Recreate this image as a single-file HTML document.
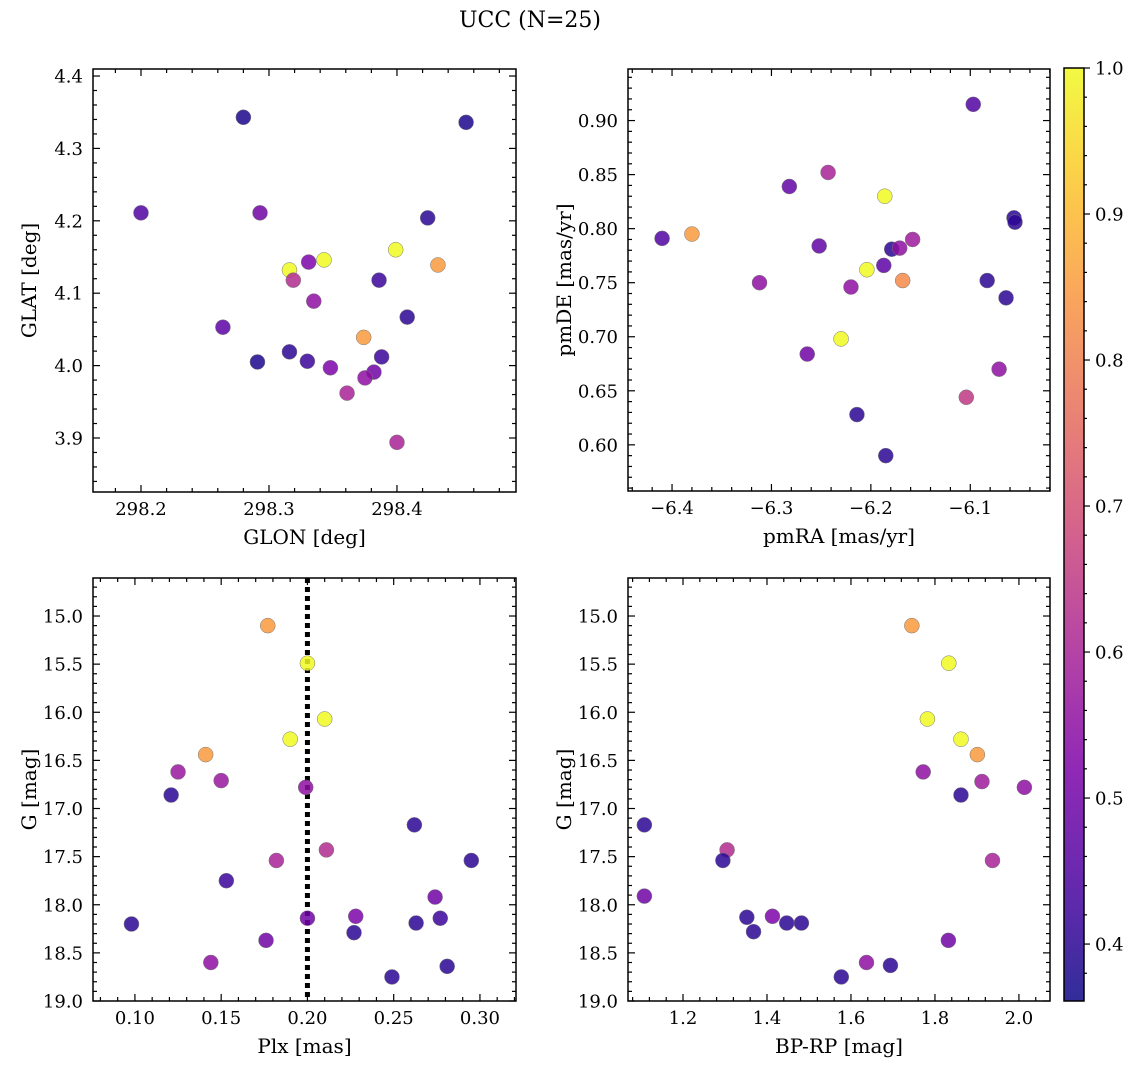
<!DOCTYPE html>
<html><head><meta charset="utf-8"><style>
body{margin:0;background:#fff}
svg{display:block;font-family:"DejaVu Serif","Liberation Serif",serif}
</style></head><body>
<svg id="fig" width="1136" height="1068" viewBox="0 0 1136 1068">
<text x="530" y="27" text-anchor="middle" font-size="22">UCC (N=25)</text>
</svg>
<script>
// Panel 1: GLON vs GLAT
const p1Glon=[298.200,298.280,298.454,298.293,298.424,298.316,298.343,298.399,298.331,298.432,298.319,298.335,298.264,298.386,298.408,298.291,298.316,298.330,298.374,298.388,298.348,298.382,298.375,298.361,298.400];
const p1Glat=[4.211,4.343,4.336,4.211,4.204,4.132,4.146,4.160,4.143,4.139,4.118,4.089,4.053,4.118,4.067,4.005,4.019,4.006,4.039,4.012,3.997,3.991,3.983,3.962,3.894];
const p1Prob=[0.45,0.38,0.38,0.5,0.4,1.0,1.0,1.0,0.52,0.85,0.62,0.55,0.47,0.42,0.4,0.38,0.4,0.42,0.85,0.42,0.52,0.5,0.55,0.6,0.6];
// Panel 2: pmRA vs pmDE
const p2PmRA=[-6.410,-6.380,-6.312,-6.282,-6.243,-6.252,-6.220,-6.186,-6.204,-6.230,-6.179,-6.171,-6.158,-6.187,-6.168,-6.097,-6.056,-6.055,-6.083,-6.064,-6.071,-6.104,-6.264,-6.214,-6.185];
const p2PmDE=[0.791,0.795,0.750,0.839,0.852,0.784,0.746,0.830,0.762,0.698,0.781,0.782,0.790,0.766,0.752,0.915,0.810,0.806,0.752,0.736,0.670,0.644,0.684,0.628,0.590];
const p2Prob=[0.45,0.85,0.55,0.48,0.6,0.48,0.55,1.0,1.0,1.0,0.4,0.55,0.58,0.47,0.82,0.45,0.4,0.4,0.4,0.4,0.55,0.65,0.5,0.4,0.4];
// Panel 3: Plx vs G
const p3Plx=[0.177,0.200,0.210,0.190,0.141,0.125,0.150,0.199,0.121,0.262,0.211,0.182,0.295,0.153,0.274,0.098,0.228,0.200,0.277,0.227,0.176,0.144,0.249,0.281,0.263];
const p3G=[15.10,15.49,16.07,16.28,16.44,16.62,16.71,16.78,16.86,17.17,17.43,17.54,17.54,17.75,17.92,18.20,18.12,18.14,18.14,18.29,18.37,18.60,18.75,18.64,18.19];
const p3Prob=[0.85,1.0,1.0,1.0,0.85,0.57,0.57,0.55,0.4,0.4,0.62,0.6,0.4,0.42,0.5,0.4,0.52,0.5,0.42,0.4,0.5,0.55,0.4,0.4,0.4];
// Panel 4: BP-RP vs G
const p4BpRp=[1.745,1.833,1.782,1.862,1.901,1.772,1.912,2.013,1.862,1.108,1.305,1.937,1.295,1.108,1.352,1.368,1.413,1.447,1.482,1.577,1.637,1.694,1.832];
const p4G=[15.10,15.49,16.07,16.28,16.44,16.62,16.72,16.78,16.86,17.17,17.43,17.54,17.54,17.91,18.13,18.28,18.12,18.19,18.19,18.75,18.60,18.63,18.37];
const p4Prob=[0.85,1.0,1.0,1.0,0.85,0.55,0.58,0.55,0.4,0.4,0.62,0.6,0.4,0.5,0.4,0.4,0.52,0.4,0.4,0.4,0.55,0.4,0.5];
const cbTicks=[0.4,0.5,0.6,0.7,0.8,0.9,1.0];
const gTicks=[15.0,15.5,16.0,16.5,17.0,17.5,18.0,18.5,19.0];
const plxLine=0.20;
const VMIN=0.361, VMAX=1.0;

const NS="http://www.w3.org/2000/svg";
const svg=document.getElementById('fig');
const FT=18, FL=20;
function mk(tag,attrs,parent){const e=document.createElementNS(NS,tag);for(const k in attrs)e.setAttribute(k,attrs[k]);(parent||svg).appendChild(e);return e;}
const plasma=[[13,8,135],[75,3,161],[125,3,168],[168,34,150],[203,70,121],[229,107,93],[248,148,65],[253,195,40],[240,249,33]];
function cmap(v){let t=(v-VMIN)/(VMAX-VMIN);t=Math.max(0,Math.min(1,t));const s=t*(plasma.length-1);const i=Math.min(plasma.length-2,Math.floor(s));const f=s-i;const a=plasma[i],b=plasma[i+1];return 'rgb('+[0,1,2].map(k=>Math.round(a[k]+(b[k]-a[k])*f)).join(',')+')';}
function fmt(v,d){let s=Math.abs(v).toFixed(d);if(v<0)s='\u2212'+s;return s;}

function panel(name,box,xd,yd,xt,yt,xminor,yminor,xdec,ydec,xlabel,ylabel,xs,ys,ps,invert,vline){
  const [L,T,R,B]=box;
  const sx=v=>L+(v-xd[0])/(xd[1]-xd[0])*(R-L);
  const sy=invert? (v=>T+(v-yd[0])/(yd[1]-yd[0])*(B-T)) : (v=>B-(v-yd[0])/(yd[1]-yd[0])*(B-T));
  const g=mk('g',{});
  
  
  const tk=mk('g',{stroke:'#000','stroke-width':1.2},g);
  
  
  const eps=1e-9;
  for(let v=Math.ceil(xd[0]/xminor-eps)*xminor;v<=xd[1]+eps;v+=xminor){const x=sx(v);const maj=xt.some(t=>Math.abs(t-v)<xminor/3);const l=maj?7:4;mk('line',{x1:x,y1:B,x2:x,y2:B-l},tk);mk('line',{x1:x,y1:T,x2:x,y2:T+l},tk);}
  for(let v=Math.ceil(yd[0]/yminor-eps)*yminor;v<=yd[1]+eps;v+=yminor){const y=sy(v);const maj=yt.some(t=>Math.abs(t-v)<yminor/3);const l=maj?7:4;mk('line',{x1:L,y1:y,x2:L+l,y2:y},tk);mk('line',{x1:R,y1:y,x2:R-l,y2:y},tk);}
  xt.forEach(v=>{const t=mk('text',{x:sx(v),y:B+23,'text-anchor':'middle','font-size':FT},g);t.textContent=fmt(v,xdec);});
  yt.forEach(v=>{const t=mk('text',{x:L-10,y:sy(v)+6.5,'text-anchor':'end','font-size':FT},g);t.textContent=fmt(v,ydec);});
  const xl=mk('text',{x:(L+R)/2,y:B+52,'text-anchor':'middle','font-size':FL},g);xl.textContent=xlabel;
  
  const yl=mk('text',{x:0,y:0,'text-anchor':'middle','font-size':FL,transform:'translate('+(L-57)+','+((T+B)/2)+') rotate(-90)'},g);yl.textContent=ylabel;
  
  if(vline!==undefined){const ln=mk('line',{x1:sx(vline),y1:T,x2:sx(vline),y2:B,stroke:'#000','stroke-width':5,'stroke-dasharray':'5,4'},g);}
  xs.forEach((v,i)=>{const c=mk('circle',{cx:sx(v),cy:sy(ys[i]),r:7.5,fill:cmap(ps[i]),'fill-opacity':0.85,stroke:'#777','stroke-width':0.5},g);
    
    });
  const fr=mk('rect',{x:L,y:T,width:R-L,height:B-T,fill:'none',stroke:'#000','stroke-width':1.5},g);
  
}
panel('panel-glon-glat',[93,69,516,492],[298.1625,298.493],[3.8254,4.4097],[298.2,298.3,298.4],[3.9,4.0,4.1,4.2,4.3,4.4],0.02,0.02,1,1,'GLON [deg]','GLAT [deg]',p1Glon,p1Glat,p1Prob,false);
panel('panel-pm',[628,69,1050,491],[-6.4443,-6.0198],[0.5573,0.9477],[-6.4,-6.3,-6.2,-6.1],[0.6,0.65,0.7,0.75,0.8,0.85,0.9],0.02,0.01,1,2,'pmRA [mas/yr]','pmDE [mas/yr]',p2PmRA,p2PmDE,p2Prob,false);
panel('panel-plx-g',[93,578,516,1001],[0.0757,0.3209],[14.605,19.0],[0.1,0.15,0.2,0.25,0.3],gTicks,0.01,0.1,2,1,'Plx [mas]','G [mag]',p3Plx,p3G,p3Prob,true,plxLine);
panel('panel-cmd',[628,578,1050,1001],[1.069,2.074],[14.605,19.0],[1.2,1.4,1.6,1.8,2.0],gTicks,0.04,0.1,1,1,'BP-RP [mag]','G [mag]',p4BpRp,p4G,p4Prob,true);
// colorbar
const CL=1064,CR=1084,CT=68,CB=1001;
const defs=mk('defs',{});const lg=mk('linearGradient',{id:'cbg',x1:0,y1:1,x2:0,y2:0},defs);
for(let i=0;i<=20;i++){const v=VMIN+(VMAX-VMIN)*i/20;mk('stop',{offset:i/20,'stop-color':cmap(v),'stop-opacity':0.85},lg);}
const cb=mk('rect',{x:CL,y:CT,width:CR-CL,height:CB-CT,fill:'url(#cbg)',stroke:'#000','stroke-width':1.5});


const cy=v=>CB-(v-VMIN)/(VMAX-VMIN)*(CB-CT);
for(let v=0.38;v<=1.0001;v+=0.02){const maj=cbTicks.some(t=>Math.abs(t-v)<0.005);mk('line',{x1:CR,y1:cy(v),x2:CR+(maj?6:3),y2:cy(v),stroke:'#000','stroke-width':1.2});}
cbTicks.forEach(v=>{const t=mk('text',{x:CR+11,y:cy(v)+6.5,'font-size':FT});t.textContent=v.toFixed(1);
  
  });
</script>
</body></html>
